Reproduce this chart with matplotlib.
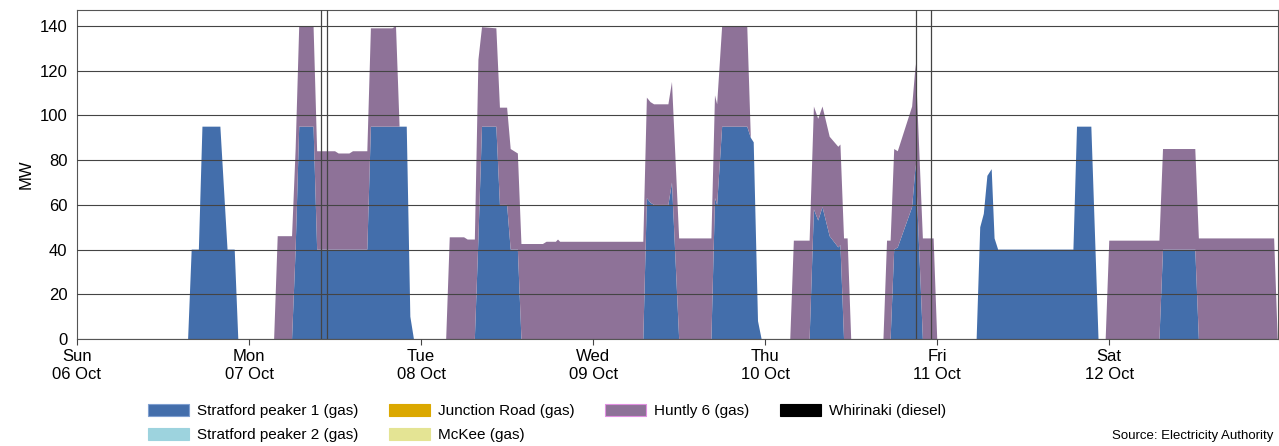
import numpy as np
import matplotlib
matplotlib.use('Agg')
import matplotlib.pyplot as plt
from matplotlib.patches import Patch

plt.rcParams['font.family'] = ['Liberation Sans', 'DejaVu Sans']

hours = [0.0, 15.5, 16.0, 17.0, 17.5, 20.0, 21.0, 22.0, 22.5,
         27.5, 28.0, 30.0, 30.5, 31.0, 33.0, 33.5, 36.0, 36.5, 38.0, 38.5,
         40.5, 41.0, 44.0, 44.5, 45.0, 46.0, 46.5, 47.0,
         51.5, 52.0, 54.0, 54.5, 55.5, 56.0, 56.5, 58.5, 59.0, 60.0, 60.5,
         61.5, 62.0, 65.0, 65.5, 66.8, 67.1, 67.4, 79.0, 79.5, 80.0, 80.5,
         82.5, 83.0, 84.0, 88.5, 89.0, 89.3, 90.0, 93.5, 94.0, 94.4, 95.0, 95.5,
         99.5, 100.0, 102.2, 102.8, 103.4, 104.0, 105.0, 106.2, 106.5, 107.0,
         107.5, 108.0, 112.5, 113.0, 113.5, 114.0, 114.5, 116.5, 117.0, 118.0,
         119.5, 120.0, 125.5, 126.0, 126.5, 127.0, 127.6, 128.0, 128.5,
         139.0, 139.5, 141.5, 142.5, 143.5, 144.0, 151.0, 151.5, 156.0, 156.5,
         167.0, 167.5]

stratford1 = [0, 0, 40, 40, 95, 95, 40, 40, 0,
              0, 0, 0, 40, 95, 95, 40, 40, 40, 40, 40,
              40, 95, 95, 95, 95, 95, 10, 0,
              0, 0, 0, 0, 0, 45, 95, 95, 60, 60, 40,
              40, 0, 0, 0, 0, 0, 0, 0, 63, 61, 60,
              60, 70, 0, 0, 63, 60, 95, 95, 90, 88, 8, 0,
              0, 0, 0, 58, 53, 59, 46, 41, 42, 0,
              0, 0, 0, 0, 0, 40, 41, 59, 78, 0,
              0, 0, 0, 50, 56, 73, 76, 45, 40,
              40, 95, 95, 0, 0, 0, 0, 40, 40, 0,
              0, 0]

huntly6 = [0, 0, 0, 0, 0, 0, 0, 0, 0,
           0, 46, 46, 45, 45, 45, 44, 44, 43, 43, 44,
           44, 44, 44, 45, 0, 0, 0, 0,
           0, 45.5, 45.5, 44.5, 44.5, 80, 44.5, 44, 43.5, 43.5, 45,
           43, 42.5, 42.5, 43.5, 43.5, 44.5, 43.5, 43.5, 45, 45, 45,
           45, 45, 45, 45, 46, 45, 45, 45, 0, 0, 0, 0,
           0, 44, 44, 46, 45.5, 45, 44.5, 45, 45, 45,
           45, 0, 0, 44, 44, 45, 43, 45, 45, 45,
           45, 0, 0, 0, 0, 0, 0, 0, 0,
           0, 0, 0, 0, 0, 44, 44, 45, 45, 45,
           45, 0]

# these units did not run over the week
stratford2 = [0] * len(hours)
junction_road = [0] * len(hours)
mckee = [0] * len(hours)
whirinaki = [0] * len(hours)

labels = ['Stratford peaker 1 (gas)', 'Stratford peaker 2 (gas)',
          'Junction Road (gas)', 'McKee (gas)', 'Huntly 6 (gas)',
          'Whirinaki (diesel)']
colors = ['#436eab', '#9dd3de', '#dba800', '#e4e494', '#8e7298', '#000000']
edges = ['#7f9fd0', '#9dd3de', '#dba800', '#e4e494', '#e08fe0', '#000000']

day_ticks = [0, 24, 48, 72, 96, 120, 144]
day_labels = ['Sun\n06 Oct', 'Mon\n07 Oct', 'Tue\n08 Oct', 'Wed\n09 Oct',
              'Thu\n10 Oct', 'Fri\n11 Oct', 'Sat\n12 Oct']
event_hours = [34.0, 34.9, 117.0, 119.1]

fig = plt.figure(figsize=(12.79, 4.46), dpi=100)
ax = fig.add_axes([0.0602, 0.2399, 0.9388, 0.7377])

ax.stackplot(hours, stratford1, stratford2, junction_road, mckee, huntly6,
             whirinaki, colors=colors, linewidth=0)

for h in event_hours:
    ax.axvline(h, color='#444444', lw=0.9, zorder=3)

ax.set_xlim(0, 167.5)
ax.set_ylim(0, 147.2)
ax.set_yticks(range(0, 141, 20))
ax.set_xticks(day_ticks)
ax.set_xticklabels(day_labels, fontsize=12)
ax.tick_params(axis='y', length=0, pad=7, labelsize=12)
ax.tick_params(axis='x', length=4, color='#444444')
ax.set_ylabel('MW', fontsize=12)
ax.set_axisbelow(False)
ax.yaxis.grid(True, color='#444444', lw=0.8)
for s in ax.spines.values():
    s.set_color('#555555')

handles = [Patch(facecolor=c, edgecolor=e, lw=0.8) for c, e in zip(colors, edges)]
fig.legend(handles, labels, ncol=4, loc='upper left',
           bbox_to_anchor=(0.105, 0.125), frameon=False, fontsize=11,
           handlelength=2.7, handleheight=0.8, handletextpad=0.5,
           columnspacing=2.0, labelspacing=0.65)

fig.text(0.9955, 0.022, 'Source: Electricity Authority', ha='right',
         va='center', fontsize=9.5)

fig.savefig('out.png', dpi=100)
